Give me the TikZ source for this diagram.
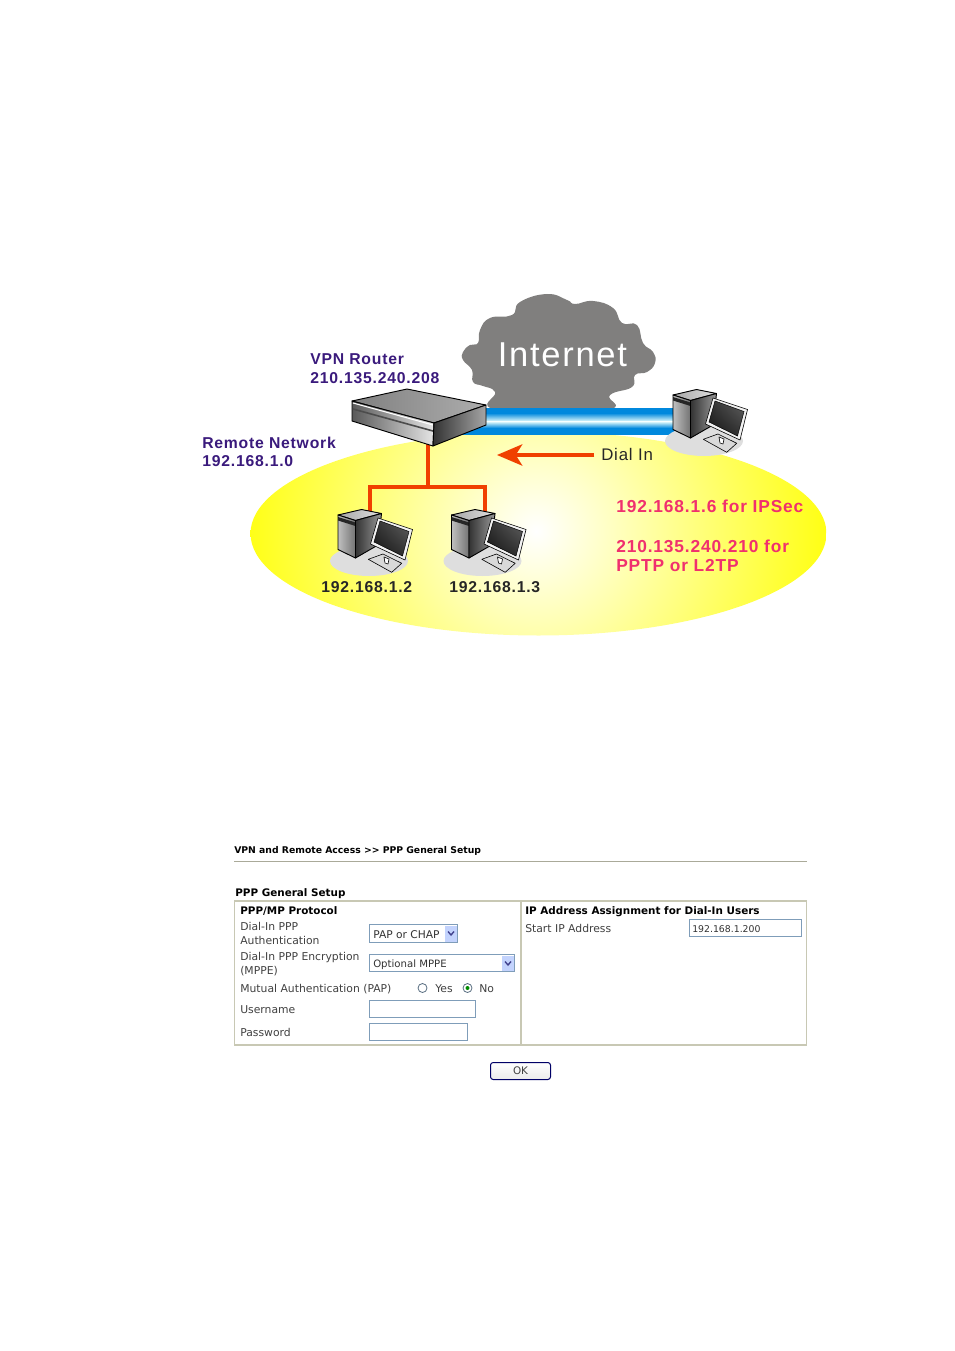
\documentclass[tikz,border=0pt]{standalone}
\usepackage{fontspec}
\usetikzlibrary{arrows.meta,shadings}
\newfontfamily\labelfont[LetterSpace=5]{Liberation Sans}
\newfontfamily\uifont{DejaVu Sans}
\definecolor{cloudgray}{HTML}{807F7E}
\definecolor{labelpurple}{HTML}{3A1A7C}
\definecolor{labelpink}{HTML}{F0306E}
\definecolor{wirered}{HTML}{F04000}
\definecolor{bandblue}{HTML}{0088DD}
\definecolor{boxline}{HTML}{C8C8B4}
\definecolor{fieldline}{HTML}{7F9DB9}
\definecolor{dropblue}{HTML}{C3D3FD}
\tikzset{
	bigtext/.style={anchor=base west, inner sep=0pt, font=\labelfont\bfseries\fontsize{11.8}{14}\selectfont},
	pinktext/.style={anchor=base west, inner sep=0pt, text=labelpink, font=\labelfont\bfseries\fontsize{13}{15}\selectfont},
	uitext/.style={anchor=base west, inner sep=0pt, text=black!75, font=\uifont\fontsize{8.1}{9}\selectfont},
	uivalue/.style={anchor=base west, inner sep=0pt, text=black!80, font=\uifont\fontsize{7.6}{9}\selectfont},
	uibold/.style={anchor=base west, inner sep=0pt, font=\uifont\bfseries\fontsize{7.8}{9}\selectfont},
	fieldbox/.style={draw=fieldline, fill=white, line width=0.75pt},
	radiobox/.style={draw=fieldline!70!black, fill=white, line width=0.6pt},
	chevron/.style={draw=blue!40!black!75, line width=1pt},
	facebox/.style={draw=black, line width=0.7pt, line join=round},
	thinbox/.style={draw=black, line width=0.45pt, line join=round},
	wire/.style={draw=wirered, line width=2.4pt},
	okbutton/.style={draw=blue!40!black, top color=white, bottom color=black!8, rounded corners=2pt, line width=0.75pt, minimum width=45pt, minimum height=12.75pt, inner sep=0pt, text=black!75, font=\uifont\fontsize{7.8}{9}\selectfont}
}
% one computer, #1,#2 is the top left corner of the tower
\def\pcunit(#1,#2){
	\begin{scope}[shift={(#1,#2)}]
		\fill[black!13] (31, 46) ellipse [x radius=39, y radius=15];
		\shade[facebox, left color=black!35, right color=black!12] (0, 0) -- (23.5, -5.5) -- (43.5, -1.5) -- (17.5, 5.5) -- cycle;
		\shade[facebox, left color=black!25, right color=black!55] (0, 0) -- (17.5, 5.5) -- (17.5, 43) -- (0, 34.5) -- cycle;
		\fill[black!85] (0, 2) -- (17.5, 7.5) -- (17.5, 11) -- (0, 5.5) -- cycle;
		\shade[facebox, left color=black!80, right color=black!40] (17.5, 5.5) -- (43.5, -1.5) -- (40, 30) -- (17.5, 43) -- cycle;
		\filldraw[thinbox, fill=black!15] (30.3, 44.3) -- (45, 39) -- (63.7, 48.3) -- (53.7, 57.3) -- cycle;
		\filldraw[thinbox, fill=white] (46, 42) -- (51, 44) -- (50, 49) -- (47, 48) -- cycle;
		\filldraw[thinbox, fill=black!5] (40, 3) -- (74.5, 14.5) -- (67, 45) -- (32.5, 29) -- cycle;
		\shade[lower left=black!92, upper right=black!62, lower right=black!80, upper left=black!80, draw=black, line width=0.35pt] (42, 6) -- (71, 16.5) -- (64.5, 41) -- (36, 27) -- cycle;
	\end{scope}
}
\begin{document}
\begin{tikzpicture}[x=0.75pt, y=-0.75pt]
	%%%%% DIAGRAM %%%%%
	\useasboundingbox (0, 0) rectangle (954, 1351);
	
	\begin{scope}
		\clip (538.5, 533.5) ellipse [x radius=288, y radius=102];
		\shade[inner color=white, outer color=yellow!92!white] (536, 531) circle (290);
	\end{scope}
	
	\fill[cloudgray] plot[smooth cycle, tension=0.8] coordinates {(498, 410) (495, 392) (483, 386) (473, 382) (472, 370) (463, 360) (463, 352) (470, 345) (478, 343) (480, 330) (490, 318) (512, 315) (520, 302) (547, 294) (567, 300) (575, 304) (593, 301) (613, 308) (622, 323) (637, 325) (643, 343) (653, 352) (655, 363) (647, 372) (635, 375) (632, 387) (610, 395) (605, 410)};
	\node[anchor=base west, inner sep=0pt, text=white, font=\labelfont\fontsize{25.9}{28}\selectfont] (internet) at (497.5, 367) {Internet};
	
	\fill[bandblue] (460, 408) rectangle (675, 435);
	\shade[top color=bandblue, bottom color=black!10!cyan!10!white] (460, 413) rectangle (675, 421.5);
	\shade[top color=black!10!cyan!10!white, bottom color=bandblue] (460, 421.5) rectangle (675, 428);
	
	\coordinate (routerfoot) at (428, 440);
	\coordinate (hub) at (428, 487);
	\coordinate (pcleft) at (370, 516);
	\coordinate (pcright) at (485, 516);
	\draw[wire] (routerfoot) -- (hub);
	\draw[wire] (pcleft) -- (pcleft |- hub) -- (pcright |- hub) -- (pcright);
	
	\shade[facebox, left color=black!50, right color=black!32] (352, 401) -- (407, 389) -- (486, 405) -- (434, 423) -- cycle;
	\shade[facebox, left color=black!65, right color=black!10] (352, 401) -- (434, 423) -- (433, 446) -- (352, 421) -- cycle;
	\draw[white, line width=0.8pt] (353, 403) -- (433, 425);
	\draw[black!70, line width=1.2pt] (353, 409) -- (433, 431);
	\shade[facebox, left color=black!80, right color=black!35] (434, 423) -- (486, 405) -- (486, 425) -- (433, 446) -- cycle;
	
	\pcunit(673, 395)
	\pcunit(338, 515)
	\pcunit(451.5, 515)
	
	\node[bigtext, text=labelpurple] (vpnname) at (310, 365) {VPN Router};
	\node[bigtext, text=labelpurple] (vpnaddr) at (310, 383) {210.135.240.208};
	\node[bigtext, text=labelpurple] (lanname) at (202, 448) {Remote Network};
	\node[bigtext, text=labelpurple] (lanaddr) at (202, 466) {192.168.1.0};
	
	\node[anchor=base west, inner sep=0pt, text=black!85, font=\labelfont\fontsize{12.6}{14}\selectfont] (dialin) at (601, 460) {Dial In};
	\coordinate (dialtip) at (497, 455);
	\draw[wirered, line width=2.5pt, -{Stealth[length=19pt, width=16pt, inset=5pt]}] ([xshift=-5]dialin.west |- dialtip) -- (dialtip);
	
	\node[bigtext, text=black!85] (pcleftaddr) at (321, 592) {192.168.1.2};
	\node[bigtext, text=black!85] (pcrightaddr) at (449, 592) {192.168.1.3};
	
	\node[pinktext] (ipsecaddr) at (616, 512.5) {192.168.1.6 for IPSec};
	\node[pinktext] (pptpaddr) at (616, 552) {210.135.240.210 for};
	\node[pinktext] (pptpname) at (616, 571) {PPTP or L2TP};
	
	%%%%% SETUP PAGE %%%%%
	\node[uibold, font=\uifont\bfseries\fontsize{6.95}{9}\selectfont] (crumb) at (234, 853) {VPN and Remote Access >> PPP General Setup};
	\draw[boxline!85!black, line width=0.75pt] (234, 861.5) -- (807, 861.5);
	\node[uibold] (pagetitle) at (235, 896) {PPP General Setup};
	
	\draw[boxline, line width=1.1pt] (234.5, 901) rectangle (806.5, 1045);
	\draw[boxline, line width=1.1pt] (521, 901) -- (521, 1045);
	
	\node[uibold] (pppname) at (240, 914.5) {PPP/MP Protocol};
	\node[uitext] (authone) at (240, 930.5) {Dial-In PPP};
	\node[uitext] (authtwo) at (240, 944) {Authentication};
	\node[uitext] (encone) at (240, 960.5) {Dial-In PPP Encryption};
	\node[uitext] (enctwo) at (240, 974) {(MPPE)};
	\node[uitext] (mutual) at (240, 992.5) {Mutual Authentication (PAP)};
	\node[uitext] (username) at (240, 1013) {Username};
	\node[uitext] (password) at (240, 1036) {Password};
	
	\draw[fieldbox] (369.5, 924.5) rectangle (457.5, 942.5);
	\fill[dropblue] (445, 925.5) rectangle (457, 942);
	\draw[chevron] (448, 931.5) -- (451, 935) -- (454, 931.5);
	\node[uivalue, font=\uifont\fontsize{8}{9}\selectfont] (authvalue) at (373, 938) {PAP or CHAP};
	
	\draw[fieldbox] (369.5, 954.5) rectangle (514.5, 971.5);
	\fill[dropblue] (502, 955.5) rectangle (514, 971);
	\draw[chevron] (505, 961.5) -- (508, 965) -- (511, 961.5);
	\node[uivalue] (encvalue) at (373, 967) {Optional MPPE};
	
	\draw[radiobox] (422.5, 988) circle (4.5);
	\node[uitext] (yes) at (435, 992.5) {Yes};
	\draw[radiobox] (467.5, 988) circle (4.5);
	\fill[green!55!black] (467.5, 988) circle (2);
	\node[uitext] (no) at (479, 992.5) {No};
	
	\draw[fieldbox] (369.5, 1000.5) rectangle (475.5, 1017.5);
	\draw[fieldbox] (369.5, 1023.5) rectangle (467.5, 1040.5);
	
	\node[uibold] (ipname) at (525, 914.5) {IP Address Assignment for Dial-In Users};
	\node[uitext] (startip) at (525, 932) {Start IP Address};
	\draw[fieldbox] (689.5, 919.5) rectangle (801.5, 936.5);
	\node[uivalue, font=\uifont\fontsize{7}{9}\selectfont] (startvalue) at (692, 932) {192.168.1.200};
	
	\node[okbutton] (okay) at (520.5, 1071) {OK};
\end{tikzpicture}
\end{document}
